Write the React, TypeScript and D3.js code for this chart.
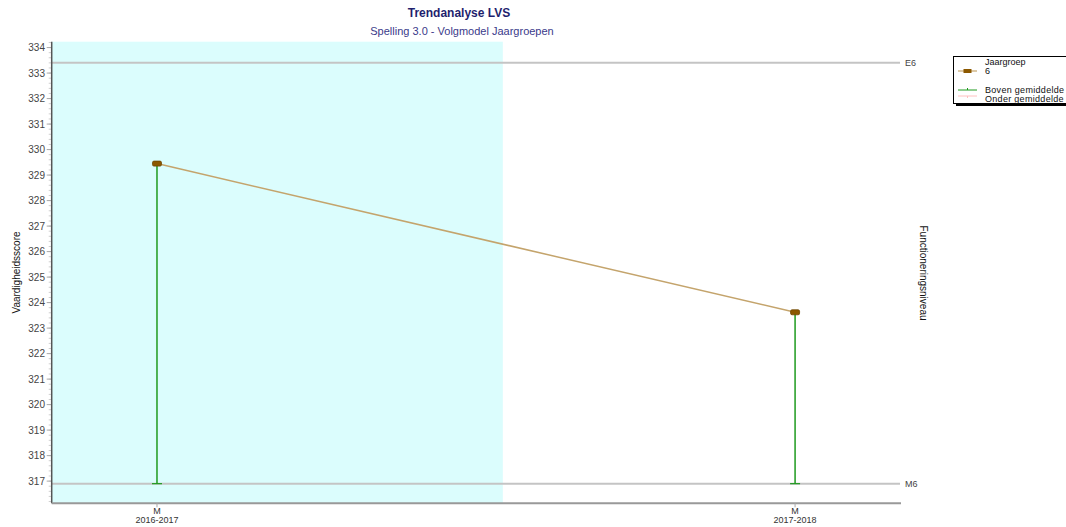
import React from "react";
import * as d3 from "d3";

const categories = ["2016-2017", "2017-2018"];
const periods = ["M", "M"];
const xPositions = [0, 1];
const scores = [329.45, 323.62];
const refLabels = ["E6", "M6"];
const refValues = [333.4, 316.9];
const yTicks = d3.range(317, 335, 1);
const minorTicks = d3.range(316.2, 334.21, 0.2);
const highlightEnd = 0.542;
const legendItems = ["Jaargroep", "6", "Boven gemiddelde", "Onder gemiddelde"];

const W = 1066;
const H = 527;
const left = 51.7;
const right = 901;
const top = 41.7;
const bottom = 503.3;
const font = "Arial, 'Liberation Sans', sans-serif";

export default function App() {
  const x = d3.scaleLinear().domain([-0.165, 1.166]).range([left, right]);
  const y = d3.scaleLinear().domain([316.13, 334.23]).range([bottom, top]);
  const baseline = refValues[1];
  const line = d3
    .line<number>()
    .x((_, i) => x(xPositions[i]))
    .y((d) => y(d));

  return (
    <svg
      width={W}
      height={H}
      style={{ position: "absolute", left: 0, top: 0, background: "#fff" }}
      fontFamily={font}
    >
      {/* titles */}
      <text x={459} y={17} textAnchor="middle" fontSize={12} fontWeight="bold" fill="#1f1f6e">
        Trendanalyse LVS
      </text>
      <text x={462} y={35} textAnchor="middle" fontSize={11} fill="#3a3a8a">
        Spelling 3.0 - Volgmodel Jaargroepen
      </text>

      {/* highlighted band */}
      <rect
        x={x(-0.165)}
        y={top}
        width={x(highlightEnd) - x(-0.165)}
        height={bottom - top}
        fill="#dbfdfd"
      />

      {/* reference lines */}
      {refValues.map((v, i) => (
        <g key={refLabels[i]}>
          <line x1={left} x2={right - 1} y1={y(v)} y2={y(v)} stroke="#c4c4c4" strokeWidth={2} />
          <text x={905} y={y(v) + 3.5} fontSize={9} fill="#444">
            {refLabels[i]}
          </text>
        </g>
      ))}

      {/* y axis */}
      {minorTicks.map((t) => (
        <line key={"m" + t} x1={left - 3} x2={left} y1={y(t)} y2={y(t)} stroke="#d0d0d0" strokeWidth={1} />
      ))}
      {yTicks.map((t) => (
        <g key={t}>
          <line x1={left - 5} x2={left} y1={y(t)} y2={y(t)} stroke="#aaa" strokeWidth={1} />
          <text x={45} y={y(t) + 3.5} textAnchor="end" fontSize={10} fill="#444">
            {t}
          </text>
        </g>
      ))}
      <line x1={left} x2={left} y1={top} y2={bottom} stroke="#555" strokeWidth={1.5} />

      {/* x axis */}
      <line x1={left} x2={right} y1={bottom} y2={bottom} stroke="#999" strokeWidth={2} />
      {categories.map((c, i) => (
        <g key={c}>
          <line x1={x(xPositions[i])} x2={x(xPositions[i])} y1={bottom} y2={bottom + 4} stroke="#aaa" />
          <text x={x(xPositions[i])} y={514} textAnchor="middle" fontSize={9} fill="#333">
            {periods[i]}
          </text>
          <text x={x(xPositions[i])} y={523} textAnchor="middle" fontSize={9} fill="#333">
            {c}
          </text>
        </g>
      ))}

      {/* axis titles */}
      <text
        transform={`translate(20, ${(top + bottom) / 2}) rotate(-90)`}
        textAnchor="middle"
        fontSize={10}
        fill="#111"
      >
        Vaardigheidsscore
      </text>
      <text
        transform={`translate(920, 273) rotate(90)`}
        textAnchor="middle"
        fontSize={10}
        fill="#111"
      >
        Functioneringsniveau
      </text>

      {/* error bars */}
      {scores.map((s, i) => (
        <g key={"e" + i}>
          <line
            x1={x(xPositions[i])}
            x2={x(xPositions[i])}
            y1={y(s)}
            y2={y(baseline)}
            stroke="#1e9a1e"
            strokeWidth={1.5}
          />
          <line
            x1={x(xPositions[i]) - 5}
            x2={x(xPositions[i]) + 5}
            y1={y(baseline)}
            y2={y(baseline)}
            stroke="#1e9a1e"
            strokeWidth={1.2}
          />
        </g>
      ))}

      {/* trend line */}
      <path d={line(scores) || ""} fill="none" stroke="#c4a46c" strokeWidth={1.5} />
      {scores.map((s, i) => (
        <rect
          key={"p" + i}
          x={x(xPositions[i]) - 4.5}
          y={y(s) - 2.5}
          width={9}
          height={5}
          rx={1.5}
          fill="#8c5800"
          stroke="#6e4600"
          strokeWidth={0.8}
        />
      ))}

      {/* legend */}
      <rect x={956} y={59} width={120} height={47} fill="#000" />
      <rect x={953.5} y={56.5} width={120} height={47} fill="#fff" stroke="#000" strokeWidth={1} />
      <line x1={958} x2={977} y1={71} y2={71} stroke="#c4a46c" strokeWidth={1.2} />
      <rect x={963.5} y={69} width={8} height={4} fill="#8c5800" />
      <line x1={958} x2={977} y1={90} y2={90} stroke="#1e9a1e" strokeWidth={1} />
      <line x1={967.5} x2={967.5} y1={88} y2={90} stroke="#1e9a1e" strokeWidth={1} />
      <line x1={958} x2={977} y1={96} y2={96} stroke="#ffc0c0" strokeWidth={1} />
      <line x1={967.5} x2={967.5} y1={96} y2={98} stroke="#ffc0c0" strokeWidth={1} />
      <text x={985} y={65} fontSize={9} fill="#111">{legendItems[0]}</text>
      <text x={985} y={74} fontSize={9} fill="#111">{legendItems[1]}</text>
      <text x={985} y={93} fontSize={9} fill="#111" letterSpacing={0.3}>{legendItems[2]}</text>
      <text x={985} y={102} fontSize={9} fill="#111" letterSpacing={0.3}>{legendItems[3]}</text>
    </svg>
  );
}
